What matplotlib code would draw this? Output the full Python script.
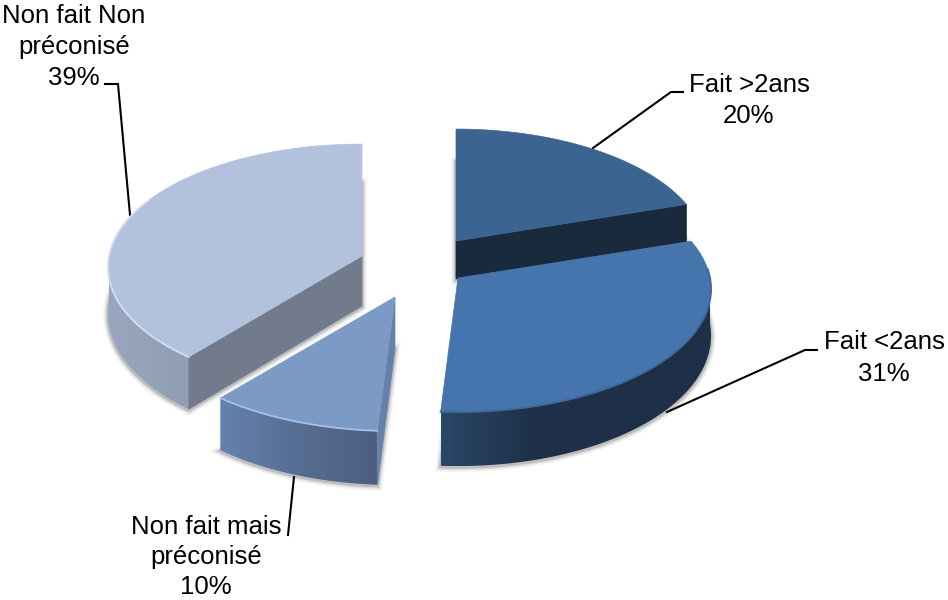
import numpy as np
import matplotlib
matplotlib.use('Agg')
from matplotlib import pyplot as plt
from matplotlib.colors import LinearSegmentedColormap
from matplotlib.patches import Polygon

plt.rcParams['font.family'] = ['Liberation Sans', 'DejaVu Sans']

# chart data
categories = ['Fait >2ans', 'Fait <2ans', 'Non fait mais\npréconisé', 'Non fait Non\npréconisé']
percents = [20, 31, 10, 39]

# pie geometry, in pixels
apex_x = [456, 458, 395, 362]
apex_y = [241, 278, 297, 256]
radius_x = [249, 252, 255, 253]
radius_y = 122
perspective = 0.09
apex_depth = [38, 47, 52, 50]
rim_depth = [40, 46, 46, 46]
draw_order = [0, 1, 3, 2]

# colours, each wall gradient running left to right
top_colors = ['#3b6491', '#4675ae', '#7c9ac6', '#b3c2dc']
wall_colors = [
    ['#1a2a3d', '#1a2a3d'],
    ['#2a4668', '#1f3149', '#1e3048', '#1d3049'],
    ['#6482ae', '#566d92', '#4c5f80'],
    ['#9aa6bf', '#919db3'],
]
radial_colors = ['#1a2a3d', None, '#6480ab', '#717b8b']
rim_colors = [None, '#3f6795', '#a8c0e8', '#d3dff2']

# label layout: first baseline and leader line
label_x = [749, 884, 206, 74]
label_y = [92, 349, 534, 23]
line_step = [31, 32, 30, 31]
leader_x = [[683, 671, 593], [817, 805, 667], [288, 294], [105, 118, 130]]
leader_y = [[92, 92, 148], [350, 350, 412], [535, 477], [84, 84, 215]]


def project(i, t, depth=0.0):
    """Screen position of the rim point of slice i at clockwise angle t."""
    rad = np.radians(t)
    scale = 1 / (1 + perspective * np.cos(rad))
    x = apex_x[i] + radius_x[i] * np.sin(rad) * scale
    y = apex_y[i] - radius_y * np.cos(rad) * scale + depth
    return x, y


def depth_at(i, t):
    return rim_depth[i] - 8 * np.cos(np.radians(t))


fig = plt.figure(figsize=(9.48, 6), dpi=100)
ax = fig.add_axes([0, 0, 1, 1])
ax.axis('off')

ends = np.cumsum(percents) * 3.6
starts = ends - np.array(percents) * 3.6
radial_angle = [ends[0], None, starts[2], starts[3]]

for x, y in zip(leader_x, leader_y):
    ax.plot(x, y, color='black', lw=1.5, zorder=1, solid_joinstyle='miter')

z = 2
for i in draw_order:
    angles = np.linspace(starts[i], ends[i], 90)
    arc_x, arc_y = project(i, angles)
    top_x = np.r_[apex_x[i], arc_x]
    top_y = np.r_[apex_y[i], arc_y]
    low_y = np.r_[apex_y[i] + apex_depth[i], arc_y + depth_at(i, angles)]

    # soft shadow around the lower face
    shadow = np.column_stack([top_x, low_y + 1])
    for lw, alpha in [(7, 0.06), (4.5, 0.1), (2.5, 0.18)]:
        ax.add_patch(Polygon(shadow, closed=True, fc='none', ec='#303030',
                             lw=lw, alpha=alpha, zorder=z))
    z += 1

    # outer wall, front half of the pie only
    lo = max(starts[i], 90)
    hi = min(ends[i], 270)
    if hi > lo:
        steps = np.linspace(lo, hi, 61)
        wx, wy = project(i, steps)
        wall = np.column_stack([np.r_[wx, wx[::-1]],
                                np.r_[wy, (wy + depth_at(i, steps))[::-1]]])
        patch = Polygon(wall, closed=True, fc='none', ec='none', zorder=z)
        ax.add_patch(patch)
        cmap = LinearSegmentedColormap.from_list('wall', wall_colors[i])
        grad = ax.imshow(np.linspace(0, 1, 256)[None, :], cmap=cmap, aspect='auto',
                         extent=(wx.min(), wx.max(), wall[:, 1].max(), wall[:, 1].min()),
                         zorder=z, interpolation='bilinear')
        grad.set_clip_path(patch)

    # cut face of the slice
    if radial_angle[i] is not None:
        xr, yr = project(i, radial_angle[i])
        face = [(apex_x[i], apex_y[i]), (xr, yr),
                (xr, yr + depth_at(i, radial_angle[i])),
                (apex_x[i], apex_y[i] + apex_depth[i])]
        ax.add_patch(Polygon(face, closed=True, fc=radial_colors[i],
                             ec=radial_colors[i], lw=0.5, zorder=z))
    z += 1

    ax.add_patch(Polygon(np.column_stack([top_x, top_y]), closed=True,
                         fc=top_colors[i], ec=top_colors[i], lw=0.5, zorder=z))
    if rim_colors[i] is not None:
        front = (angles >= 85) & (angles <= 300)
        ax.plot(arc_x[front], arc_y[front], color=rim_colors[i], lw=1.3, zorder=z)
    z += 1

for i, cat in enumerate(categories):
    lines = cat.split('\n') + [f'{percents[i]}%']
    for n, line in enumerate(lines):
        ax.text(label_x[i], label_y[i] + n * line_step[i], line, ha='center',
                va='baseline', fontsize=18.5, color='black', zorder=z)

ax.set_xlim(0, 948)
ax.set_ylim(600, 0)

plt.savefig('out.png', dpi=100)
